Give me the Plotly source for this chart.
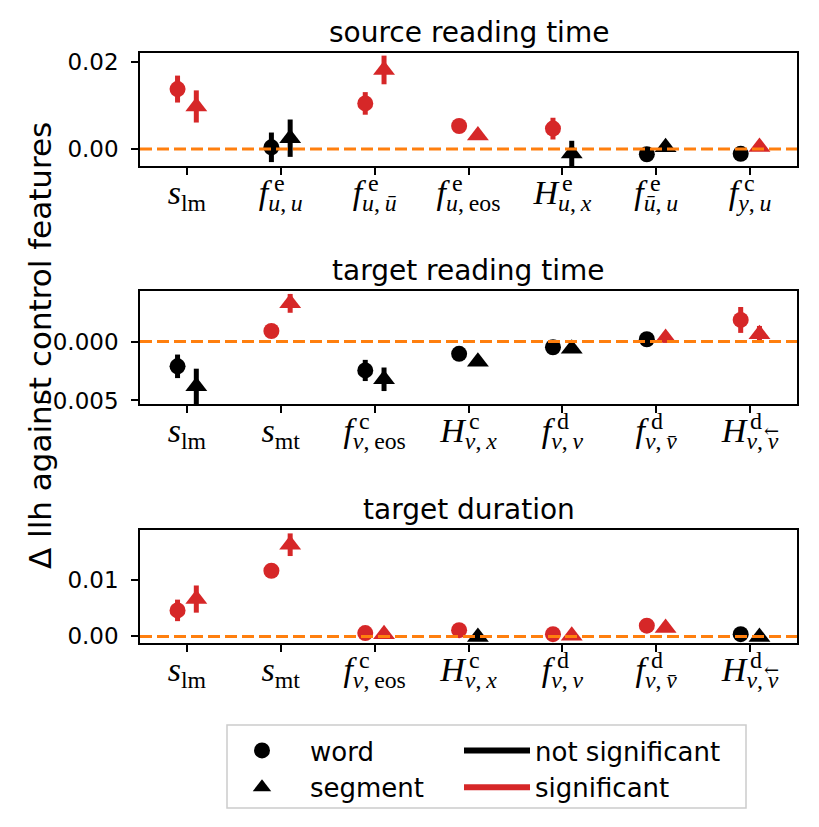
import plotly.graph_objects as go

# ---------------- data ----------------
titles = ["source reading time", "target reading time", "target duration"]

TS = "\u2009"  # thin space
# tick labels: base symbol, superscript, subscript (HTML)
base1 = ["s", "f", "f", "f", "H", "f", "f"]
sup1 = ["", "e", "e", "e", "e", "e", "c"]
sub1 = ["lm", f"<i>u</i>,{TS}<i>u</i>", f"<i>u</i>,{TS}<i>\u016b</i>", f"<i>u</i>,{TS}eos",
        f"<i>u</i>,{TS}<i>x</i>", f"<i>\u016b</i>,{TS}<i>u</i>", f"<i>y</i>,{TS}<i>u</i>"]
base23 = ["s", "s", "f", "H", "f", "f", "H"]
sup23 = ["", "", "c", "c", "d", "d", "d"]
sub23 = ["lm", "mt", f"<i>v</i>,{TS}eos", f"<i>v</i>,{TS}<i>x</i>", f"<i>v</i>,{TS}<i>v</i>",
         f"<i>v</i>,{TS}<i>v\u0304</i>", f"<i>v</i>,{TS}<i>v</i>"]
arrow23 = [False, False, False, False, False, False, True]
# plain versions for width estimation
sub1_plain = ["lm", "u,_u", "u,_u", "u,_eos", "u,_x", "u,_u", "y,_u"]
sub23_plain = ["lm", "mt", "v,_eos", "v,_x", "v,_v", "v,_v", "v,_v"]

# panel 1: source reading time
p1_word = [0.0138, 0.0004, 0.0105, 0.0053, 0.0047, -0.0012, -0.0011]
p1_word_err = [0.0031, 0.0034, 0.0026, 0.0008, 0.0025, 0.0006, 0.0005]
p1_word_sig = [1, 0, 1, 1, 1, 0, 0]
p1_seg = [0.0098, 0.0025, 0.0182, 0.0031, -0.0010, 0.0004, 0.0005]
p1_seg_err = [0.0037, 0.0043, 0.0033, 0.0008, 0.0029, 0.0006, 0.0005]
p1_seg_sig = [1, 0, 1, 1, 0, 0, 1]

# panel 2: target reading time
p2_word = [-0.0021, 0.0009, -0.00245, -0.00104, -0.00048, 0.0002, 0.00184]
p2_word_err = [0.0010, 0.0002, 0.0009, 0.0002, 0.0002, 0.0002, 0.0011]
p2_word_sig = [0, 1, 0, 0, 0, 0, 1]
p2_seg = [-0.0038, 0.00325, -0.0032, -0.0017, -0.0006, 0.0003, 0.00063]
p2_seg_err = [0.0015, 0.0008, 0.0010, 0.0002, 0.0002, 0.0004, 0.0007]
p2_seg_sig = [0, 1, 0, 0, 0, 1, 1]

# panel 3: target duration
p3_word = [0.0046, 0.0116, 0.0006, 0.0011, 0.0004, 0.0019, 0.0004]
p3_word_err = [0.0019, 0.0004, 0.0002, 0.0002, 0.0002, 0.0002, 0.0002]
p3_word_sig = [1, 1, 1, 1, 1, 1, 0]
p3_seg = [0.0066, 0.0162, 0.0004, -0.0001, 0.0001, 0.0015, -0.0001]
p3_seg_err = [0.0024, 0.0020, 0.0003, 0.0002, 0.0002, 0.0003, 0.0002]
p3_seg_sig = [1, 1, 1, 0, 1, 1, 0]

yranges = [[-0.0039, 0.0221], [-0.0053, 0.0043], [-0.00116, 0.0188]]
ydticks = [0.02, 0.005, 0.01]
yformats = [".2f", ".3f", ".2f"]

RED = "#d62728"
ORANGE = "#ff7f0e"
BLACK = "#000000"

W, H = 819, 827
xdom = [140 / W, 797 / W]
ydoms = [[1 - 166 / H, 1 - 53 / H], [1 - 404 / H, 1 - 291 / H], [1 - 643 / H, 1 - 530 / H]]

panels = [
    (p1_word, p1_word_err, p1_word_sig, p1_seg, p1_seg_err, p1_seg_sig, base1, sup1, sub1, sub1_plain, [False] * 7),
    (p2_word, p2_word_err, p2_word_sig, p2_seg, p2_seg_err, p2_seg_sig, base23, sup23, sub23, sub23_plain, arrow23),
    (p3_word, p3_word_err, p3_word_sig, p3_seg, p3_seg_err, p3_seg_sig, base23, sup23, sub23, sub23_plain, arrow23),
]

EM = {'s': 0.389, 'f': 0.278, 'H': 0.722, 'u': 0.5, 'v': 0.444, 'x': 0.444, 'y': 0.444,
      ',': 0.25, '_': 0.2, 'e': 0.444, 'o': 0.5, 'l': 0.278, 'm': 0.778, 't': 0.278}
TICKF = 34
SUBF = TICKF * 0.7
MATHFONT = "Liberation Serif"

fig = go.Figure()
annotations = []
for k, (wv, we, ws, sv, se, ss, base, sup, sub, subp, arr) in enumerate(panels):
    xa = "x" if k == 0 else f"x{k+1}"
    ya = "y" if k == 0 else f"y{k+1}"
    n = len(wv)
    for vals, errs, sigs, off, sym, size in [(wv, we, ws, -0.1, "circle", 16),
                                              (sv, se, ss, 0.1, "triangle-up", 19)]:
        for sigflag, col in [(0, BLACK), (1, RED)]:
            idx = [i for i in range(n) if sigs[i] == sigflag]
            if not idx:
                continue
            fig.add_trace(go.Scatter(
                x=[i + off for i in idx], y=[vals[i] for i in idx],
                mode="markers", xaxis=xa, yaxis=ya, showlegend=False,
                marker=dict(symbol=sym, size=size, color=col, line=dict(width=0)),
                error_y=dict(type="data", array=[errs[i] for i in idx], visible=True,
                             color=col, thickness=5, width=0),
            ))
    ticktext = [f"<i>{b}</i><sub>{s}</sub>" for b, s in zip(base, sub)]
    axkey = "" if k == 0 else str(k + 1)
    fig.layout[f"xaxis{axkey}"] = dict(
        domain=xdom, anchor=ya, range=[-0.5, 6.5], tickvals=list(range(n)), ticktext=ticktext,
        tickfont=dict(family=MATHFONT, size=TICKF, color="black"), automargin=False,
        ticklabelstandoff=-12,
        showgrid=False, zeroline=False, showline=True, linecolor="black", linewidth=1.6,
        mirror=True, ticks="outside", ticklen=7, tickwidth=1.6, tickcolor="black",
    )
    fig.layout[f"yaxis{axkey}"] = dict(
        domain=ydoms[k], anchor=xa, range=yranges[k], dtick=ydticks[k], tick0=0,
        tickformat=yformats[k], tickfont=dict(family="DejaVu Sans", size=23, color="black"),
        ticklabelstandoff=8, automargin=False,
        showgrid=False, zeroline=False, showline=True, linecolor="black", linewidth=1.6,
        mirror=True, ticks="outside", ticklen=7, tickwidth=1.6, tickcolor="black",
    )
    fig.add_shape(type="line", xref=f"{xa} domain", yref=ya, x0=0, x1=1, y0=0, y1=0,
                  line=dict(color=ORANGE, width=3, dash="12px,5px"), layer="above")
    # subplot title
    annotations.append(dict(text=titles[k], xref="paper", yref="paper",
                            x=(xdom[0] + xdom[1]) / 2, y=ydoms[k][1], xanchor="center",
                            yanchor="bottom", yshift=2, showarrow=False,
                            font=dict(family="DejaVu Sans", size=28, color="black")))
    # superscripts (and the arrow accent) of the tick labels
    for i in range(n):
        bw = EM[base[i]] * TICKF
        sw = sum(EM.get(c, 0.45) for c in subp[i]) * SUBF
        tot = bw + sw
        if sup[i]:
            dx = -tot / 2 + bw + (4 if base[i] == "f" else 2)
            annotations.append(dict(text=sup[i], xref=xa, yref="paper", x=i,
                                    y=ydoms[k][0], xanchor="left", yanchor="top",
                                    xshift=dx, yshift=-2, showarrow=False,
                                    font=dict(family=MATHFONT, size=24, color="black")))
        if arr[i]:
            annotations.append(dict(text="\u2190", xref=xa, yref="paper", x=i,
                                    y=ydoms[k][0], xanchor="right", yanchor="top",
                                    xshift=tot / 2 + 3, yshift=-14, showarrow=False,
                                    font=dict(family="DejaVu Serif", size=18, color="black")))

annotations.append(dict(text="\u0394 llh against control features", xref="paper", yref="paper",
                        x=40 / W, y=1 - 346 / H, xanchor="center", yanchor="middle",
                        textangle=-90, showarrow=False,
                        font=dict(family="DejaVu Sans", size=31, color="black")))

# legend entries: markers in one legend, significance lines in a second one
leg = [("word", "legend", dict(mode="markers", marker=dict(symbol="circle", size=16, color=BLACK))),
       ("segment", "legend", dict(mode="markers", marker=dict(symbol="triangle-up", size=17, color=BLACK))),
       ("not significant", "legend2", dict(mode="lines", line=dict(color=BLACK, width=6))),
       ("significant", "legend2", dict(mode="lines", line=dict(color=RED, width=6)))]
for name, lg, kw in leg:
    fig.add_trace(go.Scatter(x=[None], y=[None], name=name, showlegend=True, legend=lg, **kw))

legfont = dict(family="DejaVu Sans", size=26, color="black")
fig.add_shape(type="rect", xref="paper", yref="paper", x0=227 / W, x1=746 / W,
              y0=1 - 808 / H, y1=1 - 725 / H, line=dict(color="#cccccc", width=1.5),
              fillcolor="rgba(255,255,255,0.8)", layer="below")

fig.update_layout(
    width=W, height=H, margin=dict(l=0, r=0, t=0, b=0, autoexpand=False),
    plot_bgcolor="rgba(0,0,0,0)", paper_bgcolor="white",
    annotations=annotations,
    legend=dict(orientation="v", x=214 / W, y=1 - 727 / H, xanchor="left", yanchor="top",
                itemwidth=86, borderwidth=0, bgcolor="rgba(0,0,0,0)", font=legfont,
                traceorder="normal", tracegroupgap=0),
    legend2=dict(orientation="v", x=459 / W, y=1 - 727 / H, xanchor="left", yanchor="top",
                 itemwidth=66, borderwidth=0, bgcolor="rgba(0,0,0,0)", font=legfont,
                 traceorder="normal", tracegroupgap=0),
)

fig.write_html("out.html", config={"displayModeBar": False},
               post_script="document.body.style.margin='0px';"
                           "document.documentElement.style.overflow='hidden';")
